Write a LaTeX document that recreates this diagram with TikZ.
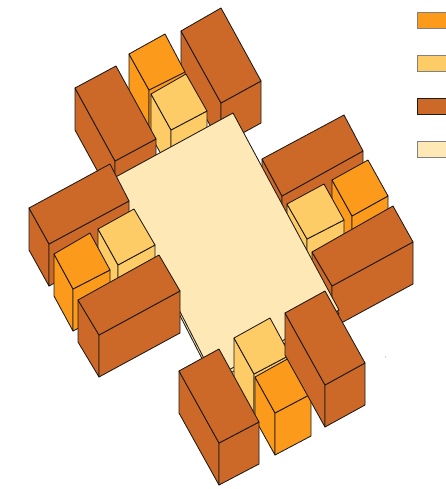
\documentclass[tikz,border=0pt]{standalone}
\usetikzlibrary{calc}
\definecolor{cOrange}{HTML}{FB9A1B}
\definecolor{cYellow}{HTML}{FECC66}
\definecolor{cBrown}{HTML}{CC6828}
\definecolor{cCream}{HTML}{FEE8B6}
\definecolor{cInk}{HTML}{1E1A16}
\tikzset{
  face/.style={draw=cInk,line width=0.85pt,line join=round},
  legendfill/.style={draw=none},
  legendline/.style={line width=0.9pt},
}
% corners of the top face: left, back, right, front
\newcommand{\blockbox}[5]{%
  \path[face,fill=#1] (#2) -- (#5) -- ($(#5)+(0,42)$) -- ($(#2)+(0,42)$) -- cycle;
  \path[face,fill=#1] (#5) -- (#4) -- ($(#4)+(0,42)$) -- ($(#5)+(0,42)$) -- cycle;
  \path[face,fill=#1] (#2) -- (#3) -- (#4) -- (#5) -- cycle;
}
\begin{document}
\begin{tikzpicture}[x=1pt,y=-1pt]
\useasboundingbox (0,0) rectangle (446,489);
% top group
\blockbox{cBrown}{181,31}{221,8}{261,81}{221,103}
\blockbox{cOrange}{129,54}{165,34}{185,72}{149,90}
\blockbox{cYellow}{151,94}{186,74}{207,111}{171,130}
\blockbox{cBrown}{75,88}{116,66}{156,139}{115,161}
% right group
\blockbox{cBrown}{262,159}{344,115}{363,151}{282,196}
\blockbox{cOrange}{332,180}{368,160}{388,196}{352,216}
\blockbox{cYellow}{287,204}{324,184}{344,220}{307,239}
\blockbox{cBrown}{312,252}{393,206}{413,242}{332,286}
% slab
\path[face,fill=cCream] (112,183) -- (233,117) -- (339,314) -- (214,382) -- cycle;
\path[face,fill=cCream] (112,179) -- (233,113) -- (339,310) -- (214,378) -- cycle;
% left group
\blockbox{cBrown}{29,208}{110,164}{129,201}{49,244}
\blockbox{cYellow}{98,229}{134,209}{155,245}{118,265}
\blockbox{cOrange}{54,254}{90,233}{110,270}{73,289}
\blockbox{cBrown}{78,300}{159,255}{180,291}{99,335}
% bottom group
\blockbox{cYellow}{234,338}{270,318}{290,355}{254,374}
\blockbox{cOrange}{255,377}{291,357}{311,394}{275,413}
\blockbox{cBrown}{285,313}{325,291}{365,363}{325,385}
\blockbox{cBrown}{179,371}{219,349}{259,422}{219,443}
% legend
\fill[cOrange] (417.5,12.5) rectangle (446,28);
\draw[legendline,draw=gray] (446,28) -- (417.5,28) -- (417.5,12.5) -- (446,12.5);
\fill[cYellow] (417.5,55.5) rectangle (446,71);
\draw[legendline,draw=gray] (446,71) -- (417.5,71) -- (417.5,55.5) -- (446,55.5);
\fill[cBrown] (417.5,98.5) rectangle (446,114);
\draw[legendline,draw=cInk] (446,114) -- (417.5,114) -- (417.5,98.5) -- (446,98.5);
\fill[cCream] (417.5,141.5) rectangle (446,157);
\draw[legendline,draw=gray] (446,157) -- (417.5,157) -- (417.5,141.5) -- (446,141.5);
% speck
\fill[gray] (385.7,357) circle (0.5);
\end{tikzpicture}
\end{document}
